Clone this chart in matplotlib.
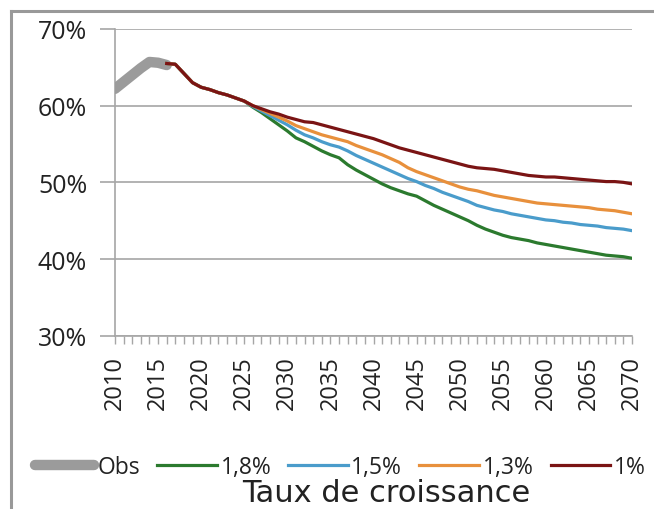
import matplotlib
matplotlib.use("Agg")
import matplotlib.pyplot as plt
from matplotlib.lines import Line2D

years_obs = list(range(2010, 2017))
obs = [62.2, 63.1, 64.0, 64.9, 65.7, 65.6, 65.3]

years_proj = list(range(2016, 2071))
common = [65.5, 65.4, 64.2, 63.0, 62.4, 62.1, 61.7, 61.4, 61.0, 60.6]  # 2016-2025

g18 = common + [59.8, 59.1, 58.3, 57.5, 56.7, 55.8, 55.3, 54.7, 54.1, 53.6,
                53.2, 52.3, 51.6, 51.0, 50.4, 49.8, 49.3, 48.9, 48.5, 48.2,
                47.6, 47.0, 46.5, 46.0, 45.5, 45.0, 44.4, 43.9, 43.5, 43.1,
                42.8, 42.6, 42.4, 42.1, 41.9, 41.7, 41.5, 41.3, 41.1, 40.9,
                40.7, 40.5, 40.4, 40.3, 40.1]
g15 = common + [59.9, 59.3, 58.7, 58.1, 57.5, 56.8, 56.2, 55.8, 55.3, 54.9,
                54.6, 54.1, 53.5, 53.0, 52.5, 52.0, 51.5, 51.0, 50.5, 50.1,
                49.6, 49.2, 48.7, 48.3, 47.9, 47.5, 47.0, 46.7, 46.4, 46.2,
                45.9, 45.7, 45.5, 45.3, 45.1, 45.0, 44.8, 44.7, 44.5, 44.4,
                44.3, 44.1, 44.0, 43.9, 43.7]
g13 = common + [60.0, 59.5, 59.0, 58.5, 58.0, 57.4, 57.0, 56.6, 56.2, 55.9,
                55.6, 55.3, 54.8, 54.4, 54.0, 53.6, 53.1, 52.6, 51.9, 51.4,
                51.0, 50.6, 50.2, 49.8, 49.4, 49.1, 48.9, 48.6, 48.3, 48.1,
                47.9, 47.7, 47.5, 47.3, 47.2, 47.1, 47.0, 46.9, 46.8, 46.7,
                46.5, 46.4, 46.3, 46.1, 45.9]
g10 = common + [60.0, 59.6, 59.2, 58.9, 58.5, 58.2, 57.9, 57.8, 57.5, 57.2,
                56.9, 56.6, 56.3, 56.0, 55.7, 55.3, 54.9, 54.5, 54.2, 53.9,
                53.6, 53.3, 53.0, 52.7, 52.4, 52.1, 51.9, 51.8, 51.7, 51.5,
                51.3, 51.1, 50.9, 50.8, 50.7, 50.7, 50.6, 50.5, 50.4, 50.3,
                50.2, 50.1, 50.1, 50.0, 49.8]

labels = ["Obs", "1,8%", "1,5%", "1,3%", "1%"]
colors = ["#9b9b9b", "#2b7a2e", "#4a9ccb", "#e8903c", "#7a1414"]
yticks = [30, 40, 50, 60, 70]
xticks_major = list(range(2010, 2071, 5))

fig = plt.figure(figsize=(6.54, 5.1), dpi=100)
ax = fig.add_axes([115/654, 1-336.7/510, (632-115)/654, (336.7-30)/510])

grid_c = "#a6a6a6"
ax.plot(years_obs, obs, color=colors[0], lw=7.5, solid_capstyle="round", label=labels[0], zorder=3)
ax.plot(years_proj, g18, color=colors[1], lw=2.3, label=labels[1], zorder=4)
ax.plot(years_proj, g15, color=colors[2], lw=2.3, label=labels[2], zorder=5)
ax.plot(years_proj, g13, color=colors[3], lw=2.3, label=labels[3], zorder=6)
ax.plot(years_proj, g10, color=colors[4], lw=2.3, label=labels[4], zorder=7)

ax.set_xlim(2010, 2070)
ax.set_ylim(30, 70)
ax.set_yticks(yticks)
ax.set_yticklabels([f"{v}%" for v in yticks])
ax.set_xticks(xticks_major)
ax.set_xticklabels([str(y) for y in xticks_major], rotation=90)
ax.set_xticks(list(range(2010, 2071)), minor=True)

for s in ["top", "right"]:
    ax.spines[s].set_visible(False)
for s in ["left", "bottom"]:
    ax.spines[s].set_color(grid_c)
    ax.spines[s].set_linewidth(1.2)

ax.yaxis.grid(True, color=grid_c, lw=1.2)
ax.set_axisbelow(True)
ax.tick_params(axis="y", length=11, width=1.2, color=grid_c, pad=9,
               labelsize=18, labelcolor="#222222")
ax.tick_params(axis="x", which="both", length=6, width=1.0, color=grid_c,
               pad=8, labelsize=17, labelcolor="#222222")
for lab in ax.get_yticklabels() + ax.get_xticklabels():
    lab.set_fontfamily("Open Sans")

handles, labs = ax.get_legend_handles_labels()
leg = fig.legend(handles, labs, loc="center", bbox_to_anchor=(340/654, 1-468/510),
                 ncol=5, frameon=False, handlelength=2.6, handletextpad=0.15,
                 columnspacing=0.75, borderaxespad=0, borderpad=0,
                 prop={"family": "Open Sans", "size": 16.5})
for t in leg.get_texts():
    t.set_color("#222222")

fig.text(386/654, 1-494/510, "Taux de croissance", ha="center", va="center",
         fontsize=22, family="DejaVu Sans", color="#222222")

fig.add_artist(Line2D([11/654, 11/654], [0, 1-12/510], transform=fig.transFigure,
                      color="#999999", lw=2.2))
fig.add_artist(Line2D([11/654, 1], [1-12/510, 1-12/510], transform=fig.transFigure,
                      color="#999999", lw=2.2))

fig.savefig("out.png", dpi=100)
